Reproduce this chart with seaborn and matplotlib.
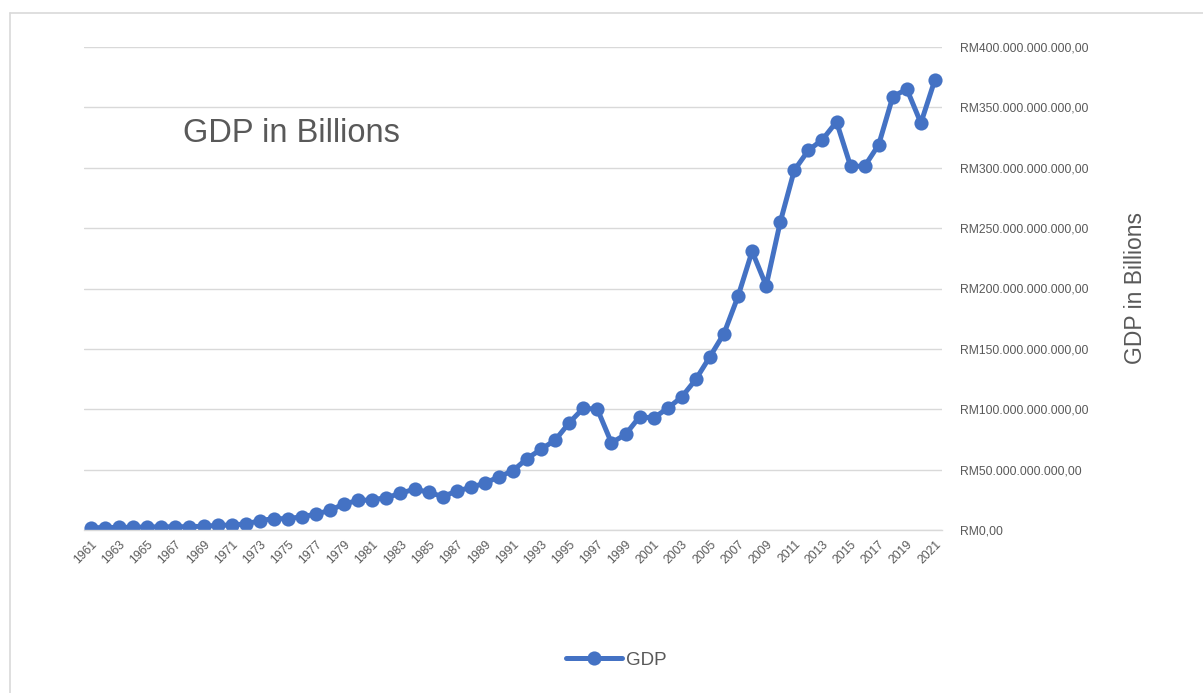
import numpy as np
import pandas as pd
import seaborn as sns
import matplotlib.pyplot as plt
from matplotlib.lines import Line2D
from matplotlib.ticker import FuncFormatter

# GDP per year, in billions
years = list(range(1961, 2022))
gdp_billions = [
    1.90, 2.00, 2.16, 2.32, 2.51, 2.67, 2.70, 2.79, 3.09, 3.86,
    4.16, 5.02, 7.66, 9.50, 9.30, 11.05, 13.14, 16.36, 21.64, 24.49,
    25.00, 26.80, 30.35, 33.94, 31.20, 27.73, 32.18, 35.27, 38.85, 44.02,
    49.14, 59.15, 66.89, 74.48, 88.83, 100.85, 100.01, 72.17, 79.15, 93.79,
    92.78, 100.85, 110.20, 124.75, 143.53, 162.69, 193.55, 230.81, 202.26, 255.02,
    297.95, 314.44, 323.28, 338.06, 301.35, 301.26, 319.11, 358.79, 365.18, 337.01,
    372.98,
]
y_ticks_billions = [0, 50, 100, 150, 200, 250, 300, 350, 400]

df = pd.DataFrame({"pos": np.arange(len(years)), "year": years, "gdp": gdp_billions})

sns.set_theme(style="white")
plt.rcParams["font.family"] = ["Liberation Sans", "DejaVu Sans"]

blue = "#4472C4"
grey_text = "#595959"
grid_c = "#D9D9D9"

fig = plt.figure(figsize=(12.03, 6.93), dpi=100)
ax = fig.add_axes([84 / 1203, 1 - 530 / 693, (942 - 84) / 1203, (530 - 47) / 693])

sns.lineplot(data=df, x="pos", y="gdp", ax=ax, color=blue, linewidth=3.6,
             marker="o", markersize=10.2, markeredgewidth=0, legend=False)

ax.set_xlim(-0.5, len(years) - 0.5)
ax.set_ylim(0, 400)

ax.set_yticks(y_ticks_billions)
ax.yaxis.tick_right()
ax.yaxis.set_major_formatter(FuncFormatter(
    lambda v, p: "RM0,00" if v == 0 else
    "RM" + f"{int(v * 1e9):,}".replace(",", ".") + ",00"))
ax.tick_params(axis="y", length=0, pad=13, labelsize=8.7, labelcolor=grey_text)

ax.set_xticks(df["pos"][::2])
ax.set_xticklabels([str(y) for y in years[::2]], rotation=45, ha="right",
                   rotation_mode="anchor")
ax.tick_params(axis="x", length=0, pad=6, labelsize=8.8, labelcolor=grey_text)

ax.grid(axis="y", color=grid_c, linewidth=1.0)
ax.grid(axis="x", visible=False)
for s in ["top", "left", "right"]:
    ax.spines[s].set_visible(False)
ax.spines["bottom"].set_color(grid_c)
ax.spines["bottom"].set_linewidth(1.0)
ax.set_axisbelow(True)
ax.set_xlabel("")
ax.set_ylabel("")

fig.text(1135 / 1203, 1 - 288 / 693, "GDP in Billions", rotation=90,
         ha="center", va="center", fontsize=16.5, color=grey_text)

fig.text(183 / 1203, 1 - 134 / 693, "GDP in Billions", ha="left", va="center",
         fontsize=23.5, color=grey_text)

handle = Line2D([], [], color=blue, linewidth=3.6, marker="o", markersize=10.2,
                markeredgewidth=0)
fig.legend([handle], ["GDP"], loc="center", bbox_to_anchor=(616 / 1203, 1 - 660 / 693),
           frameon=False, fontsize=13.5, labelcolor=grey_text, handlelength=3.0,
           handletextpad=0.2)

# chart frame edges
fig.add_artist(Line2D([10 / 1203, 1], [1 - 13 / 693, 1 - 13 / 693],
                      transform=fig.transFigure, color=grid_c, linewidth=1.2))
fig.add_artist(Line2D([10 / 1203, 10 / 1203], [0, 1 - 13 / 693],
                      transform=fig.transFigure, color=grid_c, linewidth=1.2))

fig.savefig("out.png", dpi=100, facecolor="white")
